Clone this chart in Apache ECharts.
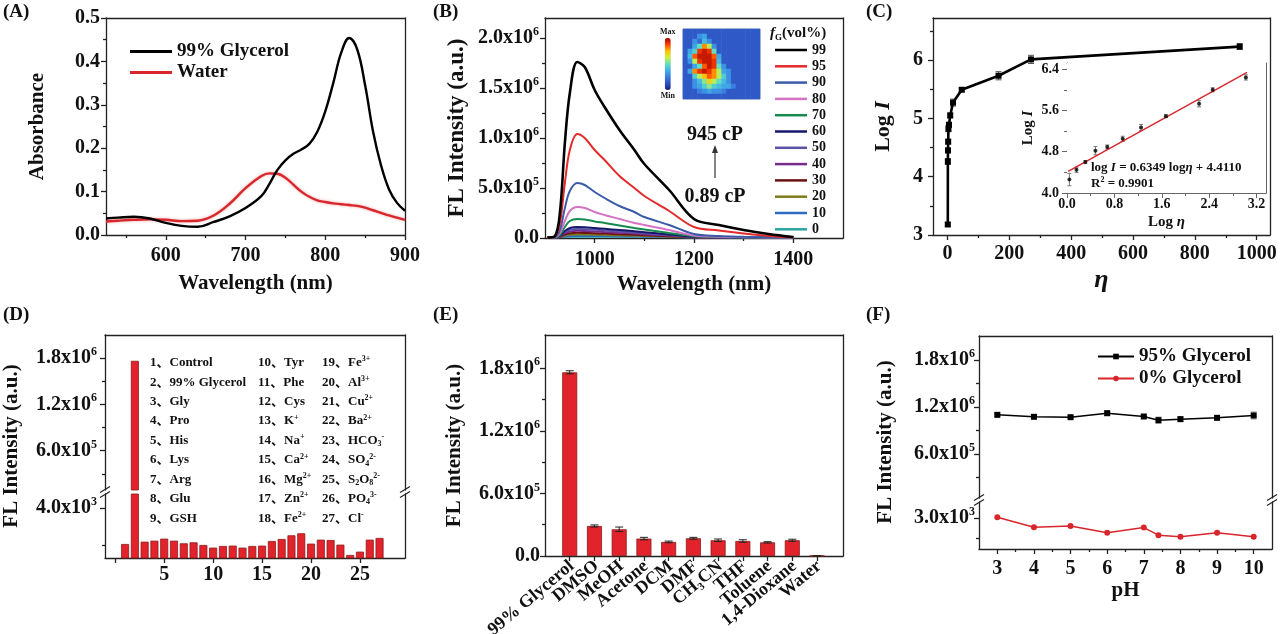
<!DOCTYPE html>
<html><head><meta charset="utf-8">
<script src="https://cdn.jsdelivr.net/npm/echarts@6/dist/echarts.min.js"></script>
<style>html,body{margin:0;padding:0;background:#fff}#c{width:1280px;height:634px}</style>
</head><body><div id="c"></div>
<script>
// ================= DATA =================
// (A) absorbance
const absWl    = [525,540,560,580,600,620,640,660,680,700,720,730,740,750,760,770,780,790,800,810,820,830,840,850,860,870,880,890,900];
const absGly   = [0.038,0.040,0.042,0.038,0.028,0.021,0.019,0.030,0.043,0.062,0.090,0.118,0.150,0.172,0.187,0.197,0.210,0.238,0.285,0.350,0.420,0.454,0.428,0.345,0.238,0.160,0.105,0.074,0.056];
const absWater = [0.031,0.033,0.035,0.036,0.035,0.032,0.033,0.045,0.072,0.108,0.136,0.142,0.141,0.132,0.116,0.100,0.088,0.080,0.076,0.073,0.071,0.069,0.067,0.063,0.057,0.051,0.045,0.040,0.035];
// (B) FL spectra, intensity in units of 10^6
const flWl = [905,920,930,940,950,965,980,1000,1020,1050,1080,1100,1150,1200,1250,1300,1350,1400];
const fl99 = [0.005,0.02,0.25,0.95,1.45,1.76,1.71,1.48,1.31,1.08,0.88,0.74,0.48,0.19,0.13,0.08,0.04,0.01];
const fl95 = [0.005,0.015,0.15,0.55,0.88,1.04,1.00,0.88,0.78,0.62,0.50,0.42,0.27,0.11,0.075,0.045,0.02,0.006];
const fl90 = [0.004,0.01,0.08,0.30,0.47,0.55,0.53,0.46,0.40,0.32,0.26,0.21,0.13,0.04,0.02,0.012,0.007,0.004];
const fl80 = [0.004,0.008,0.05,0.17,0.27,0.31,0.30,0.26,0.23,0.19,0.15,0.13,0.08,0.025,0.013,0.008,0.005,0.003];
const fl70 = [0.004,0.007,0.03,0.11,0.17,0.19,0.185,0.165,0.15,0.125,0.10,0.085,0.05,0.018,0.01,0.006,0.004,0.003];
const fl60 = [0.004,0.006,0.02,0.07,0.10,0.11,0.108,0.10,0.092,0.08,0.068,0.058,0.035,0.012,0.008,0.005,0.003,0.003];
const fl50 = [0.004,0.006,0.018,0.06,0.082,0.09,0.088,0.082,0.076,0.066,0.056,0.048,0.03,0.011,0.007,0.005,0.003,0.003];
const fl40 = [0.004,0.005,0.015,0.048,0.065,0.072,0.07,0.066,0.06,0.052,0.045,0.038,0.024,0.01,0.006,0.004,0.003,0.003];
const fl30 = [0.004,0.005,0.012,0.035,0.047,0.052,0.051,0.048,0.044,0.038,0.033,0.028,0.018,0.008,0.005,0.004,0.003,0.003];
const fl20 = [0.004,0.005,0.01,0.025,0.033,0.036,0.035,0.033,0.03,0.027,0.023,0.02,0.013,0.007,0.005,0.004,0.003,0.003];
const fl10 = [0.004,0.005,0.008,0.016,0.02,0.022,0.021,0.02,0.019,0.017,0.015,0.013,0.01,0.006,0.005,0.004,0.003,0.003];
const fl0  = [0.01,0.011,0.012,0.013,0.013,0.013,0.013,0.013,0.013,0.013,0.013,0.012,0.012,0.011,0.011,0.01,0.01,0.01];
const bNames  = ['99','95','90','80','70','60','50','40','30','20','10','0'];
const bSeries = [fl99,fl95,fl90,fl80,fl70,fl60,fl50,fl40,fl30,fl20,fl10,fl0];
// inset picture (coarse intensity map, rows top->bottom)
const insetImg = [
 [.15,.15,.15,.15,.15,.15,.15,.15,.15,.15,.15,.15,.15,.15,.15,.15],
 [.15,.15,.15,.30,.35,.15,.15,.15,.15,.15,.15,.15,.15,.15,.15,.15],
 [.15,.15,.30,.20,.40,.30,.15,.15,.15,.15,.15,.15,.15,.15,.15,.15],
 [.15,.15,.35,.50,.80,.60,.30,.15,.15,.15,.15,.15,.15,.15,.15,.15],
 [.15,.35,.45,.90,.95,.90,.50,.15,.15,.15,.15,.15,.15,.15,.15,.15],
 [.15,.40,.85,.95,.95,.95,.85,.35,.15,.15,.15,.15,.15,.15,.15,.15],
 [.15,.30,.60,.90,.95,.95,.90,.40,.15,.15,.15,.15,.15,.15,.15,.15],
 [.15,.15,.35,.50,.85,.95,.90,.50,.30,.15,.15,.15,.15,.15,.15,.15],
 [.15,.35,.80,.90,.95,.90,.80,.60,.35,.30,.15,.15,.15,.15,.15,.15],
 [.15,.15,.45,.60,.75,.85,.80,.60,.45,.30,.15,.15,.15,.15,.15,.15],
 [.15,.15,.30,.40,.55,.70,.60,.50,.40,.30,.15,.15,.15,.15,.15,.15],
 [.15,.15,.30,.35,.45,.55,.45,.40,.35,.35,.25,.15,.15,.15,.15,.15],
 [.15,.15,.15,.25,.30,.35,.30,.30,.25,.15,.15,.15,.15,.15,.15,.15],
 [.15,.15,.15,.15,.15,.15,.15,.15,.15,.15,.15,.15,.15,.15,.15,.15]
];
// (C) log I vs viscosity
const cEta  = [0.89,1.1,1.5,2.1,3.0,4.8,8.7,17.8,46,165,270,945];
const cLogI = [3.18,4.26,4.45,4.60,4.82,4.89,5.05,5.27,5.49,5.73,6.01,6.23];
const cErr  = [0.03,0.05,0.04,0.04,0.05,0.04,0.04,0.06,0.03,0.07,0.07,0.05];
const inLogEta = [0.04,0.16,0.31,0.48,0.68,0.94,1.25,1.67,2.23,2.46,3.02];
const inLogI   = [4.26,4.45,4.60,4.82,4.89,5.05,5.27,5.49,5.73,6.00,6.24];
const inErr    = [0.12,0.05,0.03,0.08,0.04,0.05,0.06,0.03,0.06,0.04,0.05];
const fitLogEta = [0.02,3.04];
const fitLogI   = [4.42,6.34];
// (D) selectivity
const dIdx  = [1,2,3,4,5,6,7,8,9,10,11,12,13,14,15,16,17,18,19,20,21,22,23,24,25,26,27];
const dVals = [2054,1765000,2180,2234,2345,2234,2091,2145,2000,1855,1945,1964,1855,1945,1964,2218,2327,2527,2636,2073,2290,2272,2018,1455,1636,2290,2381];
const dNames = ['Control','99% Glycerol','Gly','Pro','His','Lys','Arg','Glu','GSH','Tyr','Phe','Cys','K^+','Na^+','Ca^2+','Mg^2+','Zn^2+','Fe^2+','Fe^3+','Al^3+','Cu^2+','Ba^2+','HCO_3^-','SO_4^2-','S_2O_8^2-','PO_4^3-','Cl^-'];
// (E) solvents
const eCats = ['99% Glycerol','DMSO','MeOH','Acetone','DCM','DMF','CH_3CN','THF','Toluene','1,4-Dioxane','Water'];
const eVals = [1762000,288000,256000,167000,135000,170000,151000,144000,131000,151000,2000];
const eErr  = [15000,10000,22000,12000,8000,9000,12000,12000,6000,10000,0];
// (F) pH
const fPH  = [3,4,5,6,7,7.4,8,9,10];
const f95  = [1102000,1077000,1072000,1123000,1081000,1034000,1047000,1064000,1094000];
const f95e = [20000,15000,18000,30000,20000,40000,30000,25000,45000];
const f0   = [3020,2770,2800,2630,2760,2570,2530,2630,2530];
// tick values
const tA = {x:[600,700,800,900], xm:[550,650,750,850], y:[0,0.1,0.2,0.3,0.4,0.5], ym:[0.05,0.15,0.25,0.35,0.45]};
const tB = {x:[1000,1200,1400], xm:[1100,1300], y:[0,0.5,1.0,1.5,2.0], ym:[0.25,0.75,1.25,1.75]};
const tC = {x:[0,200,400,600,800,1000], xm:[100,300,500,700,900], y:[3,4,5,6], ym:[3.5,4.5,5.5,6.5]};
const tCi= {x:[0,0.8,1.6,2.4,3.2], xm:[0.4,1.2,2.0,2.8], y:[4.0,4.8,5.6,6.4], ym:[4.4,5.2,6.0]};
const tD = {x:[0,5,10,15,20,25], xl:[5,10,15,20,25], yU:[600000,1200000,1800000], yUm:[300000,900000,1500000], yL:[4000], yLm:[2000]};
const tE = {x:[1,2,3,4,5,6,7,8,9,10,11], y:[0,600000,1200000,1800000], ym:[300000,900000,1500000]};
const tF = {x:[3,4,5,6,7,8,9,10], xm:[3.5,4.5,5.5,6.5,7.5,8.5,9.5], yU:[600000,1200000,1800000], yUm:[300000,900000,1500000], yL:[3000], yLm:[2500]};

// ================= HELPERS =================
const FONT = '"Liberation Serif","Times New Roman",serif';
const FONTCJK = '"Liberation Serif","Noto Sans CJK SC",serif';
const INK = '#111';
const LS = {color:'#222', width:1.3};
function rich(fs){
  return {
    n:{fontFamily:FONT,fontWeight:'bold',fontSize:fs,color:INK,lineHeight:Math.round(fs*1.2)},
    s:{fontFamily:FONT,fontWeight:'bold',fontSize:Math.round(fs*0.6),color:INK,verticalAlign:'top'},
    b:{fontFamily:FONT,fontWeight:'bold',fontSize:Math.round(fs*0.6),color:INK,verticalAlign:'bottom'},
    i:{fontFamily:FONT,fontWeight:'bold',fontStyle:'italic',fontSize:fs,color:INK,lineHeight:Math.round(fs*1.2)}
  };
}
function sci(v){
  if (v === 0) return '{n|0.0}';
  const e = Math.floor(Math.log10(v) + 1e-9);
  const m = v / Math.pow(10, e);
  return '{n|' + m.toFixed(1) + 'x10}{s|' + e + '}';
}
function chem(str){
  let out = '', buf = '', i = 0;
  const flush = () => { if (buf) { out += '{n|' + buf + '}'; buf = ''; } };
  while (i < str.length) {
    const c = str[i];
    if (c === '_') { flush(); out += '{b|' + str[i+1] + '}'; i += 2; }
    else if (c === '^') { flush(); out += '{s|' + str.slice(i+1) + '}'; i = str.length; }
    else { buf += c; i++; }
  }
  flush(); return out;
}
const grids = [], xAxes = [], yAxes = [], series = [];
function axMain(gi, pos, o){
  const fs = o.fs || 20;
  return {
    type:'value', gridIndex:gi, position:pos, min:o.min, max:o.max, splitLine:{show:false},
    axisLine:{show:o.line !== false, onZero:false, lineStyle:o.ls || LS},
    axisTick:o.major ? {show:true, customValues:o.major, length:o.tl || 5, lineStyle:o.ls || LS} : {show:false},
    axisLabel:o.labels ? {show:true, customValues:o.labels, formatter:o.fmt || (v => '{n|' + v + '}'),
      showMinLabel:true, showMaxLabel:true, hideOverlap:false,
      margin:o.margin != null ? o.margin : 6, rotate:o.rotate || 0, color:INK, fontFamily:FONT,
      fontWeight:'bold', fontSize:fs, rich:rich(fs)} : {show:false},
    name:o.name || '', nameLocation:'middle', nameGap:o.nameGap || 30,
    nameTextStyle:{fontFamily:FONT, fontWeight:'bold', fontSize:o.nfs || 21, color:INK, rich:rich(o.nfs || 21)}
  };
}
function axMinor(gi, pos, o){
  return {type:'value', gridIndex:gi, position:pos, min:o.min, max:o.max, splitLine:{show:false},
    axisLine:{show:false, onZero:false}, axisTick:{show:true, customValues:o.minor, length:3, lineStyle:o.ls || LS},
    axisLabel:{show:false}};
}
function axOpp(gi, pos, o){
  return {type:'value', gridIndex:gi, position:pos, min:o.min, max:o.max, splitLine:{show:false},
    axisLine:{show:o.opp !== false, onZero:false, lineStyle:o.ls || LS}, axisTick:{show:false}, axisLabel:{show:false}};
}
function panel(g, X, Y){
  grids.push(Object.assign({containLabel:false}, g));
  const gi = grids.length - 1;
  const xi = xAxes.length;
  xAxes.push(axMain(gi, 'bottom', X));
  if (X.minor) xAxes.push(axMinor(gi, 'bottom', X));
  xAxes.push(axOpp(gi, 'top', X));
  const yi = yAxes.length;
  yAxes.push(axMain(gi, 'left', Y));
  if (Y.minor) yAxes.push(axMinor(gi, 'left', Y));
  yAxes.push(axOpp(gi, 'right', Y));
  return {xi, yi};
}
function errBars(cap){
  return function(params, api){
    const x = api.value(0), lo = api.value(1), hi = api.value(2);
    const p1 = api.coord([x, hi]), p2 = api.coord([x, lo]);
    const st = {stroke:api.visual('color'), lineWidth:1};
    return {type:'group', children:[
      {type:'line', shape:{x1:p1[0], y1:p1[1], x2:p2[0], y2:p2[1]}, style:st},
      {type:'line', shape:{x1:p1[0]-cap, y1:p1[1], x2:p1[0]+cap, y2:p1[1]}, style:st},
      {type:'line', shape:{x1:p2[0]-cap, y1:p2[1], x2:p2[0]+cap, y2:p2[1]}, style:st}
    ]};
  };
}
const zip = (xs, ys) => xs.map((x, i) => [x, ys[i]]);
const errData = (xs, ys, es) => xs.map((x, i) => [x, ys[i] - es[i], ys[i] + es[i]]);

// ================= PANEL A =================
const A = panel({left:106, top:18, width:299, height:217},
  {min:525, max:900, major:tA.x, minor:tA.xm, labels:tA.x, margin:9, name:'Wavelength (nm)', nameGap:38},
  {min:0, max:0.5, major:tA.y, minor:tA.ym, labels:tA.y, fmt:v => '{n|' + v.toFixed(1) + '}', margin:6, name:'Absorbance', nameGap:58});
series.push({type:'line', name:'99% Glycerol', xAxisIndex:A.xi, yAxisIndex:A.yi, data:zip(absWl, absGly), symbol:'none', smooth:0.4, color:'#000', lineStyle:{width:2.4}, z:3});
series.push({type:'line', name:'Water', xAxisIndex:A.xi, yAxisIndex:A.yi, data:zip(absWl, absWater), symbol:'none', smooth:0.4, color:'#d8262c', lineStyle:{width:2.4, shadowColor:'rgba(220,60,60,0.45)', shadowBlur:3}, z:2});

// ================= PANEL B =================
const B = panel({left:545, top:18, width:298, height:220},
  {min:900, max:1500, major:tB.x, minor:tB.xm, labels:tB.x, margin:10, name:'Wavelength (nm)', nameGap:36},
  {min:0, max:2.2, major:tB.y, minor:tB.ym, labels:tB.y, fmt:v => sci(v * 1e6), margin:6, name:'FL Intensity (a.u.)', nfs:23, nameGap:76});
const bColors = ['#000000','#e32b2b','#3b5ba9','#d472c4','#168a4e','#17176b','#5b52a8','#7a2a8c','#6b1212','#7c7c1c','#2e6cc4','#2aa3a3'];
for (let k = bNames.length - 1; k >= 0; k--) {
  series.push({type:'line', name:bNames[k], xAxisIndex:B.xi, yAxisIndex:B.yi, data:zip(flWl, bSeries[k]), symbol:'none', smooth:0.35,
    color:bColors[k], lineStyle:{width:k === 0 ? 2.6 : 2}, z:3});
}
// inset picture grid
grids.push({left:683, top:29, width:77, height:70, show:true, borderColor:'#9ab', borderWidth:1, backgroundColor:'transparent'});
const hmGrid = grids.length - 1;
const hmX = xAxes.length; xAxes.push({type:'category', gridIndex:hmGrid, show:false, data:insetImg[0].map((_, i) => i)});
const hmY = yAxes.length; yAxes.push({type:'category', gridIndex:hmGrid, show:false, inverse:true, data:insetImg.map((_, i) => i)});
const hmData = [];
insetImg.forEach((row, r) => row.forEach((v, c) => hmData.push([c, r, v])));
series.push({type:'heatmap', name:'inset', xAxisIndex:hmX, yAxisIndex:hmY, data:hmData, itemStyle:{borderWidth:0}});
const hmSeriesIdx = series.length - 1;

// ================= PANEL C =================
const C = panel({left:933, top:18, width:337, height:217},
  {min:-47, max:1043, major:tC.x, minor:tC.xm, labels:tC.x, margin:7, name:'{i|η}', nfs:26, nameGap:30},
  {min:3, max:6.72, major:tC.y, minor:tC.ym, labels:tC.y, margin:10, name:'{n|Log }{i|I}', nfs:22, nameGap:37});
series.push({type:'custom', name:'cErr', xAxisIndex:C.xi, yAxisIndex:C.yi, renderItem:errBars(3), data:errData(cEta, cLogI, cErr), color:'#555', encode:{x:0, y:[1,2]}, z:2});
series.push({type:'line', name:'cMain', xAxisIndex:C.xi, yAxisIndex:C.yi, data:zip(cEta, cLogI), symbol:'rect', symbolSize:6, color:'#000', lineStyle:{width:2.6}, z:3});
const Ci = panel({left:1067, top:63, width:199, height:130, show:true, backgroundColor:'#fff', borderWidth:0, z:5},
  {min:0, max:3.36, major:tCi.x, minor:tCi.xm, labels:tCi.x, fmt:v => '{n|' + v.toFixed(1) + '}', fs:14, margin:3, name:'{n|Log }{i|η}', nfs:15, nameGap:20, ls:{color:'#666', width:1}},
  {min:4.0, max:6.52, major:tCi.y, minor:tCi.ym, labels:tCi.y, fmt:v => '{n|' + v.toFixed(1) + '}', fs:14, margin:8, name:'{n|Log }{i|I}', nfs:15, nameGap:30, ls:{color:'#666', width:1}});
series.push({type:'line', name:'fit', xAxisIndex:Ci.xi, yAxisIndex:Ci.yi, data:zip(fitLogEta, fitLogI), symbol:'none', color:'#d8262c', lineStyle:{width:1.4}, z:6});
series.push({type:'custom', name:'inErr', xAxisIndex:Ci.xi, yAxisIndex:Ci.yi, renderItem:errBars(2), data:errData(inLogEta, inLogI, inErr), color:'#777', encode:{x:0, y:[1,2]}, z:6});
series.push({type:'scatter', name:'inPts', xAxisIndex:Ci.xi, yAxisIndex:Ci.yi, data:zip(inLogEta, inLogI), symbol:'circle', symbolSize:4, color:'#000', z:7});

// ================= PANEL D =================
const DU = panel({left:105, top:335, width:300, height:155},
  {min:-1.05, max:29.6, line:false},
  {min:90000, max:2100000, major:tD.yU, minor:tD.yUm, labels:tD.yU, fmt:sci, margin:8});
const DL = panel({left:105, top:494, width:300, height:64},
  {min:-1.05, max:29.6, major:tD.x, labels:tD.xl, margin:5, opp:false},
  {min:1290, max:4780, major:tD.yL, minor:tD.yLm, labels:tD.yL, fmt:sci, margin:8});
const barStyle = {color:'#e3232b', borderColor:'#8b1a1a', borderWidth:0.8};
series.push({type:'bar', name:'dUp', xAxisIndex:DU.xi, yAxisIndex:DU.yi, data:zip(dIdx, dVals), barWidth:8, itemStyle:barStyle});
series.push({type:'bar', name:'dLow', xAxisIndex:DL.xi, yAxisIndex:DL.yi, data:zip(dIdx, dVals), barWidth:8, itemStyle:barStyle});

// ================= PANEL E =================
const E = panel({left:545, top:335, width:298, height:221},
  {min:0, max:12.05, major:tE.x},
  {min:0, max:2120000, major:tE.y, minor:tE.ym, labels:tE.y, fmt:sci, margin:5, name:'FL Intensity (a.u.)', nameGap:80});
series.push({type:'bar', name:'eBar', xAxisIndex:E.xi, yAxisIndex:E.yi, data:zip(tE.x, eVals), barWidth:15, itemStyle:barStyle});
series.push({type:'custom', name:'eErr', xAxisIndex:E.xi, yAxisIndex:E.yi, renderItem:errBars(4), data:errData(tE.x, eVals, eErr), color:'#222', encode:{x:0, y:[1,2]}, z:4});
// rotated category labels placed through the axis scale
series.push({type:'custom', name:'eLabels', xAxisIndex:E.xi, yAxisIndex:E.yi, clip:false, silent:true, z:5,
  data:tE.x.map(x => [x, 0]), encode:{x:0, y:1},
  renderItem:function(params, api){
    const i = api.value(0); const p = api.coord([i, 0]);
    return {type:'text', x:p[0] + 2, y:p[1] + 8, rotation:40 * Math.PI / 180,
      style:{text:chem(eCats[i - 1]), rich:rich(18), fill:INK, fontFamily:FONT, fontWeight:'bold', fontSize:18, align:'right', verticalAlign:'middle'}};
  }});

// ================= PANEL F =================
const FU = panel({left:979, top:336, width:293, height:162},
  {min:2.5, max:10.5, line:false},
  {min:38000, max:2111000, major:tF.yU, minor:tF.yUm, labels:tF.yU, fmt:sci, margin:4});
const FL = panel({left:979, top:502, width:293, height:47},
  {min:2.5, max:10.5, major:tF.x, minor:tF.xm, labels:tF.x, margin:8, name:'pH', nameGap:30, opp:false},
  {min:2225, max:3400, major:tF.yL, minor:tF.yLm, labels:tF.yL, fmt:sci, margin:4});
series.push({type:'custom', name:'fErr', xAxisIndex:FU.xi, yAxisIndex:FU.yi, renderItem:errBars(3), data:errData(fPH, f95, f95e), color:'#999', encode:{x:0, y:[1,2]}, z:2});
series.push({type:'line', name:'95% Glycerol', xAxisIndex:FU.xi, yAxisIndex:FU.yi, data:zip(fPH, f95), symbol:'rect', symbolSize:6, color:'#000', lineStyle:{width:1.5}, z:3});
series.push({type:'line', name:'0% Glycerol', xAxisIndex:FL.xi, yAxisIndex:FL.yi, data:zip(fPH, f0), symbol:'circle', symbolSize:6, color:'#d8262c', lineStyle:{width:1.5}, z:3});

// ================= GRAPHICS (labels / annotations) =================
const G = [];
function txt(x, y, text, fs, opt){
  G.push(Object.assign({type:'text', x, y, z:100, style:Object.assign({text, fill:INK, fontFamily:FONT, fontWeight:'bold', fontSize:fs,
    align:'left', verticalAlign:'middle', rich:rich(fs)}, (opt && opt.style) || {})}, (opt && opt.el) || {}));
}
[['(A)',3,12],['(B)',433,12],['(C)',866,12],['(D)',3,315],['(E)',433,315],['(F)',866,315]].forEach(p => txt(p[1], p[2], p[0], 19));
// panel B annotations
txt(715, 135, '945 cP', 20, {style:{align:'center'}});
txt(715, 197, '0.89 cP', 20, {style:{align:'center'}});
G.push({type:'line', z:100, shape:{x1:715, y1:178, x2:715, y2:150}, style:{stroke:'#333', lineWidth:1.2}});
G.push({type:'polygon', z:100, shape:{points:[[715,145],[712,153],[718,153]]}, style:{fill:'#333'}});
txt(770, 33, '{i|f}{b|G}{n|(vol%)}', 15);
// panel C inset equation
txt(1091, 168, '{n|log }{i|I}{n| = 0.6349 log}{i|η}{n| + 4.4110}', 13);
txt(1091, 184, '{n|R}{s|2}{n| = 0.9901}', 13);
// y names for broken panels
txt(12, 446, 'FL Intensity (a.u.)', 21, {style:{align:'center'}, el:{rotation:Math.PI/2}});
txt(886, 442, 'FL Intensity (a.u.)', 21, {style:{align:'center'}, el:{rotation:Math.PI/2}});
// panel D legend list, one text per row
const dRich = {
  n:{fontFamily:FONTCJK, fontWeight:'bold', fontSize:13, color:INK, lineHeight:15},
  s:{fontFamily:FONT, fontWeight:'bold', fontSize:8, color:INK, verticalAlign:'top'},
  b:{fontFamily:FONT, fontWeight:'bold', fontSize:8, color:INK, verticalAlign:'bottom'}
};
[[0,150],[9,258],[18,322]].forEach(([start, x]) => {
  for (let k = start; k < start + 9; k++) {
    G.push({type:'text', x, y:362.7 + (k - start) * 19.45, z:100,
      style:{text:'{n|' + (k + 1) + '、}' + chem(dNames[k]), rich:dRich, fill:INK, fontFamily:FONTCJK, fontWeight:'bold', fontSize:13, align:'left', verticalAlign:'middle'}});
  }
});
// axis break marks
function brk(x, y){
  [-2.5, 2.5].forEach(d => G.push({type:'line', z:101, shape:{x1:x-5, y1:y+d+3, x2:x+5, y2:y+d-3}, style:{stroke:'#222', lineWidth:1.2}}));
}
brk(105, 492); brk(405, 492); brk(979, 500); brk(1272, 500);

// ================= CHART =================
const legendText = fs => ({fontFamily:FONT, fontWeight:'bold', fontSize:fs, color:INK});
const option = {
  animation:false,
  backgroundColor:'#fff',
  grid:grids, xAxis:xAxes, yAxis:yAxes, series,
  legend:[
    {data:['99% Glycerol','Water'], icon:'rect', orient:'vertical', left:130, top:42, itemWidth:42, itemHeight:3, itemGap:2, padding:0, textStyle:legendText(19), selectedMode:false},
    {data:bNames, icon:'rect', orient:'vertical', left:775, top:43, itemWidth:32, itemHeight:2.5, itemGap:2.3, padding:0, textStyle:legendText(14), selectedMode:false},
    {data:['95% Glycerol','0% Glycerol'], orient:'vertical', left:1097, top:347, itemWidth:36, itemHeight:7, itemGap:3, padding:0, textStyle:legendText(19), selectedMode:false}
  ],
  visualMap:{type:'continuous', seriesIndex:hmSeriesIdx, min:0, max:1, calculable:false, orient:'vertical', left:660, top:28,
    itemWidth:6, itemHeight:52, text:['Max','Min'], textGap:2, padding:0, hoverLink:false,
    textStyle:{fontFamily:FONT, fontWeight:'bold', fontSize:8, color:INK},
    inRange:{color:['#1a237e','#2c50c0','#3a7ce0','#40b0e8','#60e0c0','#d0f040','#ffc000','#ff4000','#a00000']}},
  graphic:G
};
const chart = echarts.init(document.getElementById('c'));
chart.setOption(option);
</script>
</body></html>
